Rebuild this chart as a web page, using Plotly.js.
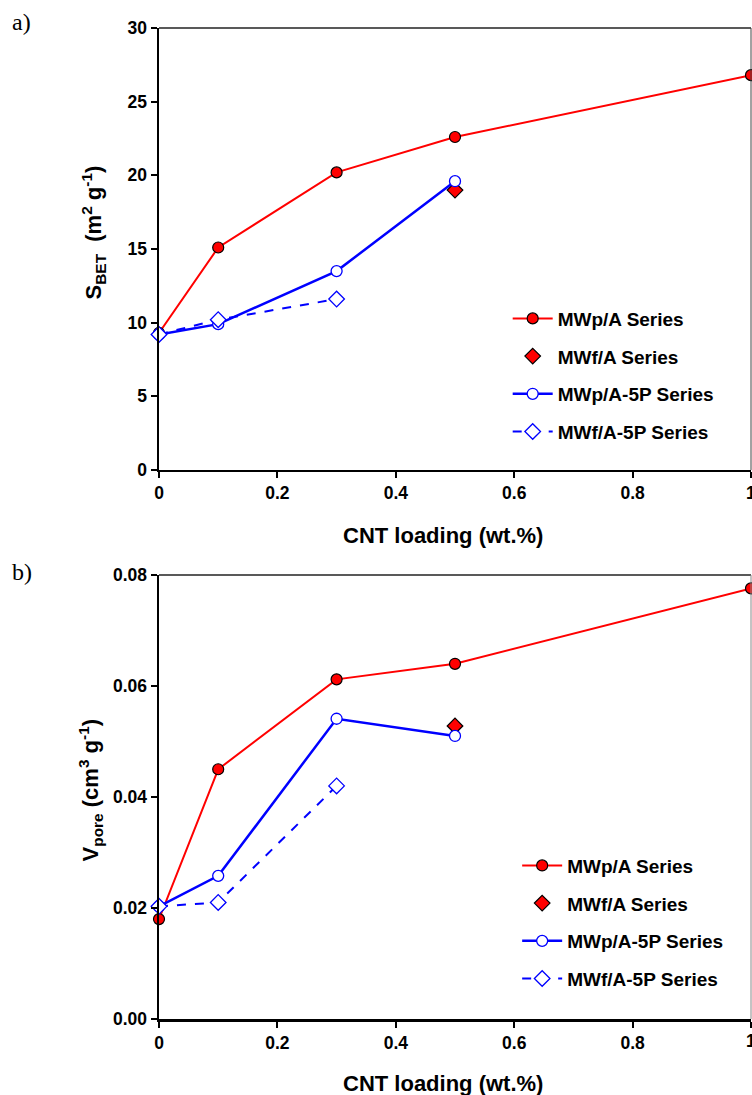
<!DOCTYPE html>
<html>
<head>
<meta charset="utf-8">
<script src="https://cdn.plot.ly/plotly-3.0.1.min.js"></script>
<style>html,body{margin:0;padding:0;background:#fff;}#chart{width:752px;height:1095px;}</style>
</head>
<body>
<div id="chart"></div>
<script>
// ---- data ----
const seriesNames = ["MWp/A Series", "MWf/A Series", "MWp/A-5P Series", "MWf/A-5P Series"];
// Panel a: S_BET (m2 g-1)
const xMWpA = [0, 0.1, 0.3, 0.5, 1.0];
const sbetMWpA = [9.3, 15.1, 20.2, 22.6, 26.8];
const xMWfA = [0.5];
const sbetMWfA = [19.0];
const xMWpA5P = [0, 0.1, 0.3, 0.5];
const sbetMWpA5P = [9.2, 9.9, 13.5, 19.6];
const xMWfA5P = [0, 0.1, 0.3];
const sbetMWfA5P = [9.2, 10.2, 11.6];
// Panel b: V_pore (cm3 g-1)
const vporeMWpA = [0.018, 0.045, 0.0612, 0.064, 0.0776];
const vporeMWfA = [0.0528];
const vporeMWpA5P = [0.0203, 0.0258, 0.0541, 0.0510];
const vporeMWfA5P = [0.0203, 0.0210, 0.0420];

const xTickVals = [0, 0.2, 0.4, 0.6, 0.8];
const xTickText = ["0", "0.2", "0.4", "0.6", "0.8"];
const xLastTick = 1;
const xLastTickText = "1";
const yTickValsA = [0, 5, 10, 15, 20, 25, 30];
const yTickValsB = [0, 0.02, 0.04, 0.06, 0.08];
const yTickTextB = ["0.00", "0.02", "0.04", "0.06", "0.08"];

const RED = "#ff0000", BLUE = "#0000ff";
const FONT = "Arial, 'Liberation Sans', sans-serif";

function makeTraces(xa, ya, legendId, vals) {
  return [
    {x: xMWpA, y: vals[0], name: seriesNames[0], mode: "lines+markers", xaxis: xa, yaxis: ya, legend: legendId, legendgroup: legendId + "g1", cliponaxis: false,
     line: {color: RED, width: 2}, marker: {symbol: "circle", size: 11, color: RED, line: {color: "#000", width: 1.2}}},
    {x: xMWfA, y: vals[1], name: seriesNames[1], mode: "markers", xaxis: xa, yaxis: ya, legend: legendId, legendgroup: legendId + "g2", cliponaxis: false,
     marker: {symbol: "diamond", size: 12, color: RED, line: {color: "#000", width: 1.2}}},
    {x: xMWpA5P, y: vals[2], name: seriesNames[2], mode: "lines+markers", xaxis: xa, yaxis: ya, legend: legendId, legendgroup: legendId + "g3", cliponaxis: false,
     line: {color: BLUE, width: 2.5}, marker: {symbol: "circle", size: 11, color: "#fff", line: {color: BLUE, width: 1.3}}},
    {x: xMWfA5P, y: vals[3], name: seriesNames[3], mode: "lines+markers", xaxis: xa, yaxis: ya, legend: legendId, legendgroup: legendId + "g4", cliponaxis: false,
     line: {color: BLUE, width: 2, dash: "dash"}, marker: {symbol: "diamond", size: 12, color: "#fff", line: {color: BLUE, width: 1.3}}}
  ];
}

const data = [].concat(
  makeTraces("x", "y", "legend", [sbetMWpA, sbetMWfA, sbetMWpA5P, sbetMWfA5P]),
  makeTraces("x2", "y2", "legend2", [vporeMWpA, vporeMWfA, vporeMWpA5P, vporeMWfA5P])
);

const tickFont = {family: FONT, size: 17.5, color: "#000", weight: "bold"};
function xAxis(anchor) {
  return {anchor: anchor, domain: [0, 1], range: [0, 1], tickvals: xTickVals.concat([xLastTick]), ticktext: xTickText.concat([""]),
    showline: true, linewidth: 2.5, linecolor: "#000", ticks: "outside", ticklen: 6, tickwidth: 2, tickcolor: "#000",
    showgrid: false, zeroline: false, tickfont: tickFont, fixedrange: true};
}
function yAxis(anchor, domain, range, vals, text) {
  const ax = {anchor: anchor, domain: domain, range: range, tickvals: vals,
    showline: true, linewidth: 2.5, linecolor: "#000", ticks: "outside", ticklen: 6, tickwidth: 2, tickcolor: "#000",
    showgrid: false, zeroline: false, tickfont: tickFont, fixedrange: true};
  if (text) ax.ticktext = text;
  return ax;
}

const titleFont = {family: FONT, size: 22, color: "#000", weight: "bold"};
const legendFont = {family: FONT, size: 19, color: "#000", weight: "bold"};

const layout = {
  width: 752, height: 1095,
  margin: {l: 159, r: 1, t: 28, b: 76},
  paper_bgcolor: "#fff", plot_bgcolor: "#fff",
  showlegend: true,
  xaxis: xAxis("y"),
  yaxis: yAxis("x", [0.554, 1], [0, 30], yTickValsA),
  xaxis2: xAxis("y2"),
  yaxis2: yAxis("x2", [0, 0.448], [0, 0.08], yTickValsB, yTickTextB),
  legend: {x: 0.589, y: 0.726, xanchor: "left", yanchor: "top", font: legendFont, bgcolor: "rgba(0,0,0,0)",
    tracegroupgap: 10, itemwidth: 40, traceorder: "grouped"},
  legend2: {x: 0.605, y: 0.174, xanchor: "left", yanchor: "top", font: legendFont, bgcolor: "rgba(0,0,0,0)",
    tracegroupgap: 10, itemwidth: 40, traceorder: "grouped"},
  shapes: [
    {type: "line", xref: "x domain", yref: "y domain", x0: 0, x1: 1, y0: 1, y1: 1, line: {color: "#222", width: 1.5}},
    {type: "line", xref: "x domain", yref: "y domain", x0: 1, x1: 1, y0: 0, y1: 1, line: {color: "#444", width: 1}},
    {type: "line", xref: "x2 domain", yref: "y2 domain", x0: 0, x1: 1, y0: 1, y1: 1, line: {color: "#222", width: 1.5}},
    {type: "line", xref: "x2 domain", yref: "y2 domain", x0: 1, x1: 1, y0: 0, y1: 1, line: {color: "#888", width: 1}}
  ],
  annotations: [
    {text: "a)", xref: "paper", yref: "paper", x: -0.252, y: 1.006, xanchor: "left", yanchor: "middle", showarrow: false,
     font: {family: "'Liberation Serif', 'Times New Roman', serif", size: 24, color: "#000"}},
    {text: "b)", xref: "paper", yref: "paper", x: -0.252, y: 0.451, xanchor: "left", yanchor: "middle", showarrow: false,
     font: {family: "'Liberation Serif', 'Times New Roman', serif", size: 24, color: "#000"}},
    {text: "S<sub>BET</sub>  (m<sup>2</sup> g<sup>-1</sup>)", xref: "paper", yref: "paper", x: -0.111, y: 0.794, textangle: -90,
     xanchor: "center", yanchor: "middle", showarrow: false, font: titleFont},
    {text: "V<sub>pore</sub> (cm<sup>3</sup> g<sup>-1</sup>)", xref: "paper", yref: "paper", x: -0.116, y: 0.231, textangle: -90,
     xanchor: "center", yanchor: "middle", showarrow: false, font: titleFont},
    {text: "CNT loading (wt.%)", xref: "paper", yref: "paper", x: 0.48, y: 0.488, xanchor: "center", yanchor: "middle",
     showarrow: false, font: titleFont},
    {text: "CNT loading (wt.%)", xref: "paper", yref: "paper", x: 0.48, y: -0.0646, xanchor: "center", yanchor: "middle",
     showarrow: false, font: titleFont},
    {text: xLastTickText, xref: "x", yref: "paper", x: xLastTick, y: 0.531, xanchor: "center", yanchor: "middle",
     showarrow: false, font: tickFont},
    {text: xLastTickText, xref: "x2", yref: "paper", x: xLastTick, y: -0.0225, xanchor: "center", yanchor: "middle",
     showarrow: false, font: tickFont}
  ]
};

Plotly.newPlot("chart", data, layout, {staticPlot: true, displayModeBar: false});
</script>
</body>
</html>
